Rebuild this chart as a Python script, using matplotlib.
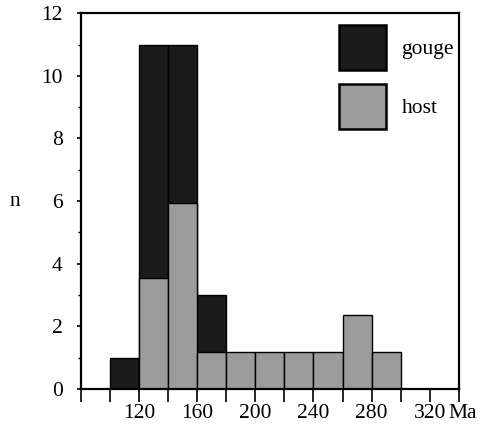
import matplotlib
matplotlib.use('Agg')
import matplotlib.pyplot as plt
from matplotlib.patches import Patch

plt.rcParams['font.family'] = ['Liberation Serif', 'DejaVu Serif']

# bin left edges (Ma), bin width 20
bin_left = [100, 120, 140, 160, 180, 200, 220, 240, 260, 280]
gouge = [1, 11, 11, 3, 0, 0, 0, 0, 0, 0]
host = [0, 3.55, 5.95, 1.18, 1.18, 1.18, 1.18, 1.18, 2.36, 1.18]
xtick_labels = ['120', '160', '200', '240', '280', '320']

dark = '#1b1b1b'
grey = '#9b9b9b'
fs = 15.5

fig = plt.figure(figsize=(4.81, 4.26), dpi=100)
ax = fig.add_axes([0.168, 0.087, 0.786, 0.882])

# gouge behind, host drawn over it
ax.bar(bin_left, gouge, width=20, align='edge', color=dark, edgecolor='black', linewidth=1)
ax.bar(bin_left, host, width=20, align='edge', color=grey, edgecolor='black', linewidth=1)

ax.set_xlim(80, 340)
ax.set_ylim(0, 12)

ax.set_xticks(range(80, 341, 20))
ax.set_xticklabels([str(v) if str(v) in xtick_labels else '' for v in range(80, 341, 20)])
ax.set_yticks(range(0, 13, 2))
ax.set_yticks(range(1, 12, 2), minor=True)

ax.tick_params(axis='x', direction='out', length=9, width=1.2, pad=1.5, labelsize=fs)
ax.tick_params(axis='y', which='major', direction='out', length=3, width=1.2, pad=10, labelsize=fs)
ax.tick_params(axis='y', which='minor', direction='out', length=2, width=1)

for sp in ax.spines.values():
    sp.set_linewidth(1.6)

ax.text(-0.175, 0.5, 'n', transform=ax.transAxes, fontsize=fs, ha='center', va='center')
ax.annotate('Ma', xy=(333, 0), xycoords='data', xytext=(0, -18), textcoords='offset points',
            fontsize=fs, ha='left', va='center', annotation_clip=False)

# legend drawn as boxes + labels
handles = [Patch(facecolor=dark, edgecolor='black', linewidth=1.8, label='gouge'),
           Patch(facecolor=grey, edgecolor='black', linewidth=1.8, label='host')]
ax.legend(handles=handles, loc='upper left', frameon=False, fontsize=fs,
          handlelength=2.2, handleheight=2.85, handletextpad=0.7, labelspacing=0.65,
          borderpad=0, borderaxespad=0, bbox_to_anchor=(0.683, 0.969))

fig.savefig('out.png', dpi=100)
